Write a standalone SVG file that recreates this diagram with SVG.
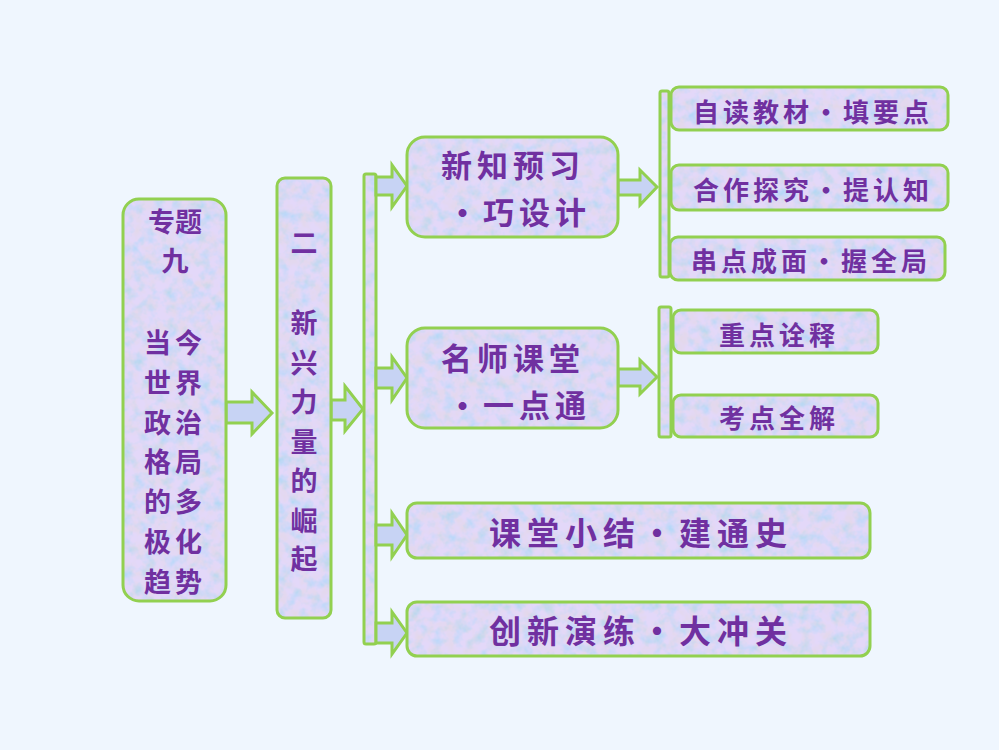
<svg xmlns="http://www.w3.org/2000/svg" width="999" height="750" viewBox="0 0 999 750">
<defs>
<filter id="tex" x="0" y="0" width="100%" height="100%">
<feTurbulence type="fractalNoise" baseFrequency="0.09" numOctaves="3" seed="7" result="n"/>
<feColorMatrix in="n" type="matrix" values="1.4 0 0 0 0.2  0 0 0 0 0.74  0 0 0.6 0 0.62  0 0 0 0 0.45" result="c"/>
<feComposite in="c" in2="SourceGraphic" operator="in" result="ci"/>
<feMerge><feMergeNode in="SourceGraphic"/><feMergeNode in="ci"/></feMerge>
</filter>
<style>
.bg{fill:#EFF6FE}
.fl{fill:#C7D3F4;filter:url(#tex)}
.ed{fill:none;stroke:#92D050;stroke-width:3;stroke-linejoin:round}
.ar{fill:#C7D3F4;stroke:#92D050;stroke-width:3;stroke-linejoin:miter}
text{font-family:"Noto Sans CJK SC","Noto Sans CJK TC",sans-serif;fill:#7030A0;font-weight:700;text-anchor:middle;dominant-baseline:central}
.t28{font-size:27px}
.t32{font-size:31px;letter-spacing:5px}
.t32w{font-size:32px;letter-spacing:6px}
.t26{font-size:26px;letter-spacing:4px}
</style>
</defs>
<rect class="bg" x="0" y="0" width="999" height="750"/>

<g id="connectors">
<polygon class="ar" points="226,402 252,402 252,392 272,413 252,434 252,423 226,423"/>
<polygon class="ar" points="331,400 345,400 345,386 363,409 345,431 345,420 331,420"/>
<rect class="fl" x="364" y="174" width="12" height="470" rx="2"/>
<rect class="ed" x="364" y="174" width="12" height="470" rx="2"/>
<polygon class="ar" points="376,177 392,177 392,165 407,186 392,207 392,195 376,195"/>
<polygon class="ar" points="376,368 392,368 392,357 407,378 392,400 392,388 376,388"/>
<polygon class="ar" points="376,525 392,525 392,513 407,535 392,557 392,545 376,545"/>
<polygon class="ar" points="376,623 392,623 392,612 407,633 392,654 392,643 376,643"/>
<polygon class="ar" points="618,180 640,180 640,170 657,187 640,205 640,195 618,195"/>
<polygon class="ar" points="618,369 640,369 640,360 657,377 640,394 640,386 618,386"/>
<rect class="fl" x="660" y="91" width="9" height="186" rx="2"/>
<rect class="ed" x="660" y="91" width="9" height="186" rx="2"/>
<rect class="fl" x="659" y="307" width="12" height="130" rx="2"/>
<rect class="ed" x="659" y="307" width="12" height="130" rx="2"/>
</g>

<g id="n1">
<rect class="fl" x="123" y="199" width="103" height="402" rx="16"/>
<rect class="ed" x="123" y="199" width="103" height="402" rx="16"/>
<text class="t28" x="175" y="220">专题</text>
<text class="t28" x="175" y="259">九</text>
<text class="t28" x="175" y="341" letter-spacing="4">当今</text>
<text class="t28" x="175" y="381" letter-spacing="4">世界</text>
<text class="t28" x="175" y="421" letter-spacing="4">政治</text>
<text class="t28" x="175" y="460" letter-spacing="4">格局</text>
<text class="t28" x="175" y="500" letter-spacing="4">的多</text>
<text class="t28" x="175" y="540" letter-spacing="4">极化</text>
<text class="t28" x="175" y="580" letter-spacing="4">趋势</text>
</g>

<g id="n2">
<rect class="fl" x="277" y="178" width="54" height="440" rx="8"/>
<rect class="ed" x="277" y="178" width="54" height="440" rx="8"/>
<text class="t28" x="304" y="241">二</text>
<text class="t28" x="304" y="321">新</text>
<text class="t28" x="304" y="361">兴</text>
<text class="t28" x="304" y="400">力</text>
<text class="t28" x="304" y="440">量</text>
<text class="t28" x="304" y="479">的</text>
<text class="t28" x="304" y="519">崛</text>
<text class="t28" x="304" y="557">起</text>
</g>

<g id="n3">
<rect class="fl" x="407" y="137" width="211" height="100" rx="18"/>
<rect class="ed" x="407" y="137" width="211" height="100" rx="18"/>
<text class="t32" x="513" y="163">新知预习</text>
<text class="t32" x="519" y="210">·巧设计</text>
</g>

<g id="n4">
<rect class="fl" x="407" y="328" width="211" height="100" rx="18"/>
<rect class="ed" x="407" y="328" width="211" height="100" rx="18"/>
<text class="t32" x="513" y="356">名师课堂</text>
<text class="t32" x="519" y="403">·一点通</text>
</g>

<g id="n5">
<rect class="fl" x="407" y="503" width="463" height="55" rx="10"/>
<rect class="ed" x="407" y="503" width="463" height="55" rx="10"/>
<text class="t32w" x="641" y="531">课堂小结·建通史</text>
</g>

<g id="n6">
<rect class="fl" x="407" y="602" width="463" height="54" rx="10"/>
<rect class="ed" x="407" y="602" width="463" height="54" rx="10"/>
<text class="t32w" x="641" y="629">创新演练·大冲关</text>
</g>

<g id="s1">
<rect class="fl" x="671" y="87" width="277" height="43" rx="8"/>
<rect class="ed" x="671" y="87" width="277" height="43" rx="8"/>
<text class="t26" x="813" y="110">自读教材·填要点</text>
</g>

<g id="s2">
<rect class="fl" x="671" y="165" width="277" height="45" rx="8"/>
<rect class="ed" x="671" y="165" width="277" height="45" rx="8"/>
<text class="t26" x="813" y="188">合作探究·提认知</text>
</g>

<g id="s3">
<rect class="fl" x="670" y="237" width="275" height="43" rx="8"/>
<rect class="ed" x="670" y="237" width="275" height="43" rx="8"/>
<text class="t26" x="811" y="259">串点成面·握全局</text>
</g>

<g id="s4">
<rect class="fl" x="673" y="310" width="205" height="43" rx="8"/>
<rect class="ed" x="673" y="310" width="205" height="43" rx="8"/>
<text class="t26" x="779" y="333" letter-spacing="8">重点诠释</text>
</g>

<g id="s5">
<rect class="fl" x="673" y="395" width="205" height="42" rx="8"/>
<rect class="ed" x="673" y="395" width="205" height="42" rx="8"/>
<text class="t26" x="779" y="416" letter-spacing="8">考点全解</text>
</g>
</svg>
